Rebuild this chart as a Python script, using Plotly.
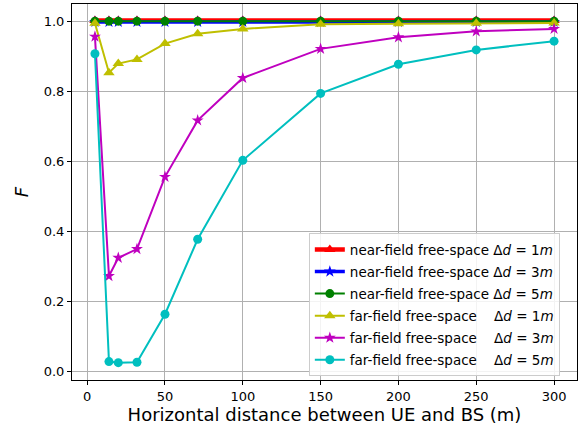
import plotly.graph_objects as go

distance = [5, 14, 20, 32, 50, 71, 100, 150, 200, 250, 300]

near_1m = [1.002, 1.002, 1.002, 1.002, 1.002, 1.002, 1.002, 1.002, 1.002, 1.002, 1.002]
near_3m = [0.998, 0.998, 0.998, 0.998, 0.998, 0.998, 0.998, 0.998, 0.998, 0.998, 0.998]
near_5m = [1.000, 1.000, 1.000, 1.000, 1.000, 1.000, 1.000, 1.000, 1.000, 1.000, 1.000]

far_1m = [0.994, 0.853, 0.879, 0.891, 0.936, 0.964, 0.978, 0.991, 0.993, 0.994, 0.995]
far_3m = [0.956, 0.273, 0.325, 0.350, 0.556, 0.717, 0.838, 0.921, 0.954, 0.971, 0.978]
far_5m = [0.907, 0.029, 0.026, 0.027, 0.164, 0.378, 0.603, 0.794, 0.877, 0.918, 0.943]

NB = "\u00a0"
series = [
    ("near-field free-space Δ<i>d</i> = 1<i>m</i>", near_1m, "#ff0000", "triangle-up", 4.5, 10),
    ("near-field free-space Δ<i>d</i> = 3<i>m</i>", near_3m, "#0000ff", "star", 3.5, 9),
    ("near-field free-space Δ<i>d</i> = 5<i>m</i>", near_5m, "#008000", "circle", 2, 9),
    ("far-field free-space" + NB * 4 + "Δ<i>d</i> = 1<i>m</i>", far_1m, "#bfbf00", "triangle-up", 2, 10),
    ("far-field free-space" + NB * 4 + "Δ<i>d</i> = 3<i>m</i>", far_3m, "#bf00bf", "star", 2, 9),
    ("far-field free-space" + NB * 4 + "Δ<i>d</i> = 5<i>m</i>", far_5m, "#00bfbf", "circle", 2, 9),
]

fig = go.Figure()
for i, (name, ys, color, sym, lw, ms) in enumerate(series):
    fig.add_trace(go.Scatter(
        x=distance, y=ys, name=name, mode="lines+markers",
        line=dict(color=color, width=lw),
        marker=dict(color=color, symbol=sym, size=ms, line=dict(width=0)),
        legendgroup=f"g{i}",
    ))

axis_common = dict(
    showline=True, linecolor="black", linewidth=1, mirror=True,
    ticks="outside", ticklen=4, tickcolor="black", tickwidth=1,
    showgrid=True, gridcolor="#b0b0b0", gridwidth=1, zeroline=False,
    tickfont=dict(family="DejaVu Sans", size=13, color="black"),
)

fig.update_layout(
    width=587, height=430,
    margin=dict(l=72, r=10, t=4, b=50),
    plot_bgcolor="white", paper_bgcolor="white",
    font=dict(family="DejaVu Sans", color="black"),
    xaxis=dict(range=[-9.75, 314.75], tickvals=[0, 50, 100, 150, 200, 250, 300],
               title=dict(text="Horizontal distance between UE and BS (m)",
                          font=dict(size=18), standoff=4),
               **axis_common),
    yaxis=dict(range=[-0.0235, 1.049], tickvals=[0.0, 0.2, 0.4, 0.6, 0.8, 1.0],
               tickformat=".1f",
               title=dict(text="<i>F</i>", font=dict(size=18), standoff=10),
               **axis_common),
    legend=dict(x=0.966, y=0.010, xanchor="right", yanchor="bottom",
                bgcolor="rgba(255,255,255,0.85)", bordercolor="#cccccc", borderwidth=1,
                font=dict(family="DejaVu Sans", size=13.5), tracegroupgap=1.5,
                itemwidth=30),
    showlegend=True,
)

fig.write_html("out.html", config={"displayModeBar": False},
               post_script="document.body.style.margin='0';")
